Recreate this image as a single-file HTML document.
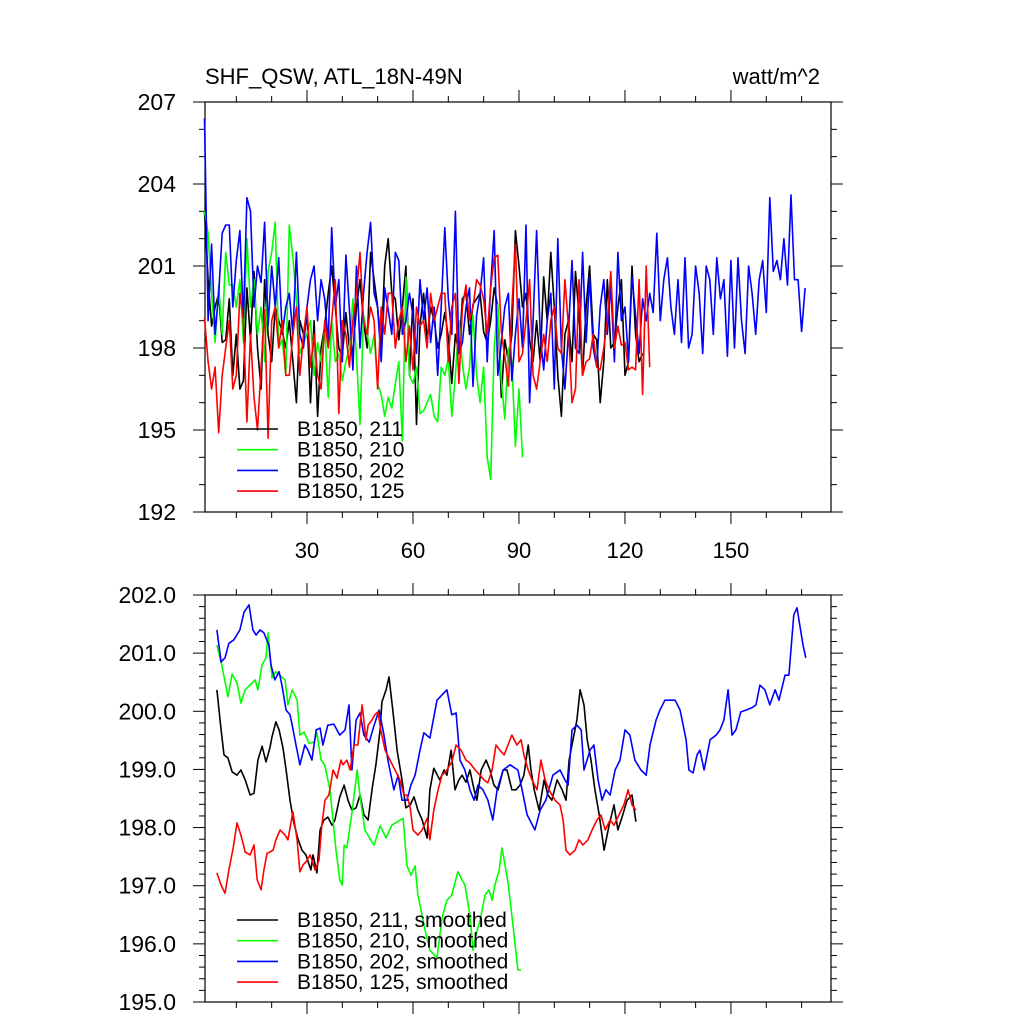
<!DOCTYPE html>
<html><head><meta charset="utf-8"><style>
body{margin:0;background:#fff}
svg text{font-family:"Liberation Sans",sans-serif;fill:#000}
</style></head><body>
<svg id="c" width="1024" height="1024" viewBox="0 0 1024 1024">
<text x="205" y="84" font-size="22">SHF_QSW, ATL_18N-49N</text>
<text x="820" y="84" font-size="22" text-anchor="end">watt/m^2</text>
</svg>
<script>
// ---- raw series (top panel), x = 1..n ----
const blueRaw=[206.4,199,201.8,198.5,200,202.2,202.5,202.5,199.5,201.2,202.3,199,203.5,203,199.5,201,200.4,202.6,198.8,201,199.5,201.3,198.5,199.5,200,198.5,201.5,198.5,198,199.5,
200.5,201,199,200.5,199.8,198.2,202.4,199.5,200.5,197.5,201.4,199.4,197.2,201,198,200,201.5,202.6,200,199.5,197.5,200.2,199.4,198.5,201.5,201.2,198.5,199,200,199.2,
197.8,200.5,199,200.2,198.2,199.5,197,199.5,202.4,199.8,198.5,203,197.8,198.2,199.5,200.2,196.6,199.2,200,201.3,197.5,200.3,202.3,197,198.2,199.5,200,196.8,198.5,199.8,
198,202.5,196,199,202.3,198.5,197.2,199,200,196.5,202,198,196.5,198.5,201.2,198,197.8,201.5,198.2,200.6,198,197.3,199.5,200.5,198.5,200.3,197.5,201.5,199,199.5,
197.5,200.6,199.2,197.8,199.8,199,200,199.3,202.2,199,200.5,201.3,199.5,198.5,200.5,198.2,201.3,198,198.5,201,200,197.8,201,200.5,198.5,201.3,199.8,200.5,197.7,201.2,
198,201.3,199,197.8,201,200,198.5,200.5,201.2,199.3,203.5,200.8,201.2,200.5,202,200.3,203.6,200.5,200.5,198.6,200.2];
const blackRaw=[203,200.5,198.8,199.5,200,198.2,198.3,199.8,197,198.5,196.5,196.8,200.2,198.3,200.8,198,196.5,200.5,198.5,197.5,199.5,199,198.6,198,199,197.5,196,199,198.5,199.2,
196,199,195.5,198,198.8,200,201,199.5,198,197.7,199.3,198,197.8,199.5,200.5,199,198,201.5,200.5,199.5,198,201,202,200,199.8,198.3,199.5,201,197,199.8,
195.2,198.8,200,198.3,199.5,199,198,198.5,199.3,198.4,196.7,198.5,197.8,199.8,200,198.5,199.6,199.8,200,198.6,198.2,199,200.2,199.5,196.2,198.3,197.5,198.5,202.3,201,
199.5,200,198.3,197.5,199,197.5,200.6,199,201.5,199.5,197,195.5,198.5,199,197.5,200.8,199.2,197,199.5,201,198.5,198.3,196,197.5,200.5,198,198.2,199.5,200.5,197,
197.5,201,198.5,197.5,197.8];
const greenRaw=[203,202.2,200,198.2,200.3,198.5,201.5,200.3,200.3,199.5,200.5,198.2,202,199.5,200.5,198.5,199.5,197.5,200.8,201.5,202.6,198,198.3,197,202.5,201.3,199.8,197.8,198.2,198.5,
199,197,198.2,197.5,198.8,196.2,199,197.5,197.8,196.8,197.5,198,199.8,197.7,195.2,199.2,198.5,197.8,198.5,196.7,196.3,195.5,196.2,195.8,196.7,197.5,194.6,200.6,197,196.7,
197.3,195.6,195.7,196,196.3,195.5,195.3,197.3,197,197.6,195.5,197,199,197.4,196.5,197.3,199.2,197,196,197.3,194,193.2,198,199.6,196.8,195.4,198,197.5,194.4,196.5,194];
const redRaw=[199.1,197.5,196.5,197.3,194.9,197,198,199,196.5,197,200,199,195.3,198.5,196.2,195,197.3,199.4,194.7,199,199.5,198,199,197,197,198.5,199.5,197,198.5,199.5,
197.3,198.5,197,196.5,199,198,199,200.5,195.6,199,198.5,197.3,199,200,201.5,199,198.5,199.5,199,196.5,199.5,198.5,200,200,198,199,199.5,197.5,198.8,197.2,
199.5,198.8,199,198,200,199,199.5,200,200,197.5,199.5,200,196.7,199.5,200.3,199,199.5,200.5,200.3,199.8,198.5,200.2,201.3,201.4,198.6,197.7,196.6,199.5,201.8,197.5,
197.8,199,200.5,197,196.5,197.5,198.5,197.5,199,199.5,198,197.8,200.5,198.8,196,196.5,200.5,197,197.5,197.6,198.5,197.3,197.2,198,199,200.8,198,198.8,198.1,198.2,
197.2,197.3,197.2,200.5,196.3,201,197.3];
// ---- smoothed series (bottom panel) ----
const greenSx=[4.5,6,7.6,8.8,10.2,11.3,12.5,15.3,16.1,17.3,18.4,19,20.1,21.2,23.8,24.6,25.8,27.2,28,29.2,30.6,32,32.8,34,35,36.5,38.2,39.3,40,40.5,41.3,42.7,44.2,45,46.4,48.4,49,50.7,52.4,54,57.2,58.3,59.4,60.6,61.4,62,63.4,64.8,66.8,68.2,69.6,71,72.7,74.7,76.1,77,77.8,79,80.4,81.5,82.4,83.2,84.4,85.2,86.9,88.3,89.7,90.6];
const greenSy=[201.14,200.76,200.25,200.64,200.49,200.14,200.37,200.54,200.37,200.8,200.92,201.35,200.57,200.68,200.54,200.11,200.37,200.19,199.59,199.64,199.45,199.47,199.63,199.16,199.08,198.65,197.61,197.1,197.01,197.7,197.65,198.25,198.99,198.54,197.96,197.75,197.7,198.03,197.82,198.04,198.16,197.34,197.18,197.34,196.84,196.67,196.24,195.89,195.76,196.44,196.75,196.84,197.24,197.01,196.5,195.89,196.15,196.41,196.84,196.93,196.75,197.01,197.27,197.65,197.06,196.32,195.55,195.55];
const blueSx=[4.5,5.7,6.8,7.9,9.3,11,12.2,13.6,14.7,15.6,16.7,17.8,19.2,19.8,20.9,22.1,22.9,24.1,25.2,25.8,26.9,28,29.4,30.3,31.4,32.6,33.7,34.5,35.9,37.6,39.3,40.8,41.9,42.7,43.9,45,46.1,47.6,49,50.4,51.8,52.9,54.6,55.8,56.9,58.3,59.4,60.6,62,63.1,64.8,66.8,69.6,71,72.2,73.3,74.7,76.1,77.3,78.4,79.8,81.2,82.6,83.8,85.5,87.5,89.7,90.9,92.3,94.5,96,97.6,99.6,101.6,103,103.9,105,106.4,107.6,108.4,110.1,111.2,112.4,113.5,114.6,115.8,117.2,118.6,120,121.4,122.8,124.5,126,127.1,128.8,129.9,131.3,132.7,134.2,135.6,137.3,138.1,139.3,140.4,141.2,142.4,144.1,145.8,146.9,148,149.2,150.3,151.4,152.8,154.3,155.9,157.1,158.2,159.6,161,162.5,163.6,165.3,166.4,167.8,168.7,169.5,170.4,171.2];
const blueSy=[201.4,200.85,200.92,201.17,201.23,201.4,201.71,201.83,201.4,201.31,201.4,201.35,201.14,200.8,200.54,200.68,200.45,200.02,199.94,199.76,199.42,199.08,199.42,199.33,199.16,199.68,199.71,199.42,199.76,199.78,199.59,199.68,200.11,198.99,199.85,199.97,199.59,199.47,199.76,200.02,199.59,199.16,198.65,198.9,198.47,198.47,198.73,198.9,199.33,199.63,199.54,200.19,200.37,199.94,199.97,199.16,198.99,198.65,198.47,198.73,198.65,198.47,198.13,198.65,198.99,199.08,198.99,198.65,198.22,197.96,198.3,198.47,198.9,198.99,198.82,198.73,199.68,199.76,199.68,198.99,199.33,199.42,198.82,198.47,198.65,198.56,198.99,199.16,199.68,199.59,199.16,198.99,198.9,199.42,199.85,200.02,200.19,200.19,200.19,200.02,199.51,198.99,198.94,199.25,199.33,198.99,199.51,199.59,199.68,199.85,200.37,199.59,199.68,199.99,200.02,200.06,200.11,200.45,200.37,200.11,200.37,200.19,200.62,200.62,201.66,201.78,201.48,201.14,200.92];
const blackSx=[4.5,5.7,6.5,7.6,8.8,10.2,11.3,12.5,13.9,15,16.1,17.3,18.4,19.5,20.1,21.2,22.1,23.2,24.1,25.2,26.3,27.5,28.6,29.7,31.1,31.7,32.8,33.7,34.8,35.9,37.1,37.9,39.3,40.5,41.6,42.7,43.9,45,46.1,47.3,48.4,49.5,50.7,51.2,52.4,53.2,54.3,55.5,56.9,58,59.2,60.3,61.4,62.6,64,64.8,65.9,67.6,68.8,69.6,70.8,71.9,73,73.9,75,76.1,77.3,78.1,79.3,80.7,81.8,82.9,84.1,85.5,86.6,88,89.2,90.3,91.4,92.6,93.4,94.3,95.7,97.1,98.2,99.3,100.8,102.2,103.3,104.2,105.3,106.4,107.3,108.4,109.3,110.4,111.5,112.7,114.1,115.5,116.9,118,119.4,120.6,122,123.1];
const blackSy=[200.37,199.68,199.25,199.2,198.96,198.9,198.99,198.82,198.56,198.59,199.16,199.4,199.13,199.37,199.56,199.82,199.68,199.37,198.99,198.47,198.08,197.79,197.61,197.53,197.27,197.53,197.22,197.96,198.13,198.18,198.04,198.13,198.53,198.73,198.47,198.3,198.34,198.56,198.22,198.13,198.65,199.08,199.68,200.16,200.37,200.59,200.02,199.33,198.82,198.34,198.39,198.53,198.3,198.13,197.82,198.65,199.02,198.82,198.99,198.9,199.33,198.65,198.82,198.9,198.78,198.99,198.65,198.47,198.99,199.16,198.99,198.73,198.65,198.99,198.99,198.65,198.65,198.73,198.9,199.42,198.99,198.65,198.3,198.82,198.56,198.47,198.82,198.65,198.47,199.16,199.51,199.85,200.37,200.11,199.51,199.16,198.65,198.22,197.61,198.04,198.39,197.96,198.22,198.47,198.56,198.1];
const redSx=[4.5,5.7,6.8,7.9,9.1,10.2,11.3,12.5,13.9,15,15.9,17,17.8,18.7,19.5,20.4,21.2,22.4,23.8,24.6,26,27.2,28,28.9,29.7,30.9,32.3,33.4,34.2,35.1,36.2,37.4,38.5,39.6,40.2,41.3,42.2,43.3,44.4,45.6,46.7,47.3,48.4,49.2,50.1,50.9,52.1,53.5,54.9,56.3,57.5,58.3,59.2,60,61.4,62.6,64,64.8,65.9,67.1,68.2,69.6,71,72.2,73.6,75,76.1,77.6,79,80.1,81.2,82.4,83.5,84.6,85.8,86.9,88,89.4,90.6,91.4,92.6,93.7,95.1,96.2,97.4,98.5,100.2,101.6,102.5,103.3,104.4,105.9,107,108.1,109.5,110.7,112.1,113.2,114.4,115.8,116.9,118.3,119.7,120.9,122,123.1];
const redSy=[197.22,197.01,196.87,197.27,197.65,198.08,197.87,197.58,197.53,197.7,197.1,196.93,197.27,197.56,197.58,197.61,197.79,197.96,197.87,197.79,198.27,197.79,197.24,197.36,197.41,197.53,197.27,197.44,198.04,198.47,198.56,198.99,198.85,199.16,199.08,199.16,198.99,199.42,199.42,200.11,199.51,199.76,199.85,199.94,199.99,199.68,199.33,199.16,198.99,198.82,198.56,198.56,198.34,197.96,197.87,197.96,198.16,197.79,198.3,198.65,198.9,198.99,199.13,199.42,199.33,199.16,199.11,198.99,198.9,198.82,198.77,198.99,199.42,199.33,199.25,199.42,199.59,199.42,199.51,199.25,198.99,198.82,198.65,199.16,198.82,198.65,198.47,198.39,198.13,197.61,197.53,197.61,197.79,197.7,197.79,197.96,198.13,198.22,197.96,198.13,198.04,198.22,198.39,198.65,198.39,198.3];
const topTicks=[192,195,198,201,204,207];
const botTicks=["195.0","196.0","197.0","198.0","199.0","200.0","201.0","202.0"];
const xTicks=[30,60,90,120,150];
const legTop=["B1850, 211","B1850, 210","B1850, 202","B1850, 125"];
const legBot=["B1850, 211, smoothed","B1850, 210, smoothed","B1850, 202, smoothed","B1850, 125, smoothed"];
const colors=["#000","#00ff00","#0000ff","#ff0000"];

const svg=document.getElementById('c');const NS='http://www.w3.org/2000/svg';
const L=205,R=831;
const xs=x=>201+3.533*x;
const yT=v=>102+(207-v)*410/15;
const yB=v=>595+(202-v)*407/7;
function el(t,a,p){const e=document.createElementNS(NS,t);for(const k in a)e.setAttribute(k,a[k]);(p||svg).appendChild(e);return e;}
function frame(top,bot,name){
  const g=el('g',{});
  
  
  el('rect',{x:L,y:top,width:R-L,height:bot-top,fill:'none',stroke:'#000','stroke-width':1.2},g);
  return g;
}
function line(pts,color,name){
  const p=el('polyline',{points:pts.map(q=>q[0].toFixed(1)+','+q[1].toFixed(1)).join(' '),fill:'none',stroke:color,'stroke-width':1.6,'stroke-linejoin':'round'});
  
  
}
// top panel
const g1=frame(102,512,'top-panel');
for(let v=10;v<=178;v+=10){const x=xs(v);const big=v%30==0;const len=big?12:6;
  el('line',{x1:x,y1:102,x2:x,y2:102-len,stroke:'#000'},g1);el('line',{x1:x,y1:512,x2:x,y2:512+len,stroke:'#000'},g1);}
for(let v=192;v<=207;v++){const y=yT(v);const big=v%3==0;const len=big?12:6;
  el('line',{x1:L,y1:y,x2:L-len,y2:y,stroke:'#000'},g1);el('line',{x1:R,y1:y,x2:R+len,y2:y,stroke:'#000'},g1);}
topTicks.forEach(v=>{const t=el('text',{x:176,y:yT(v)+8,'font-size':23,'text-anchor':'end'});t.textContent=v;
  
  });
xTicks.forEach(v=>{const t=el('text',{x:xs(v),y:558,'font-size':22,'text-anchor':'middle'});t.textContent=v;
  
  });
[blackRaw,greenRaw,blueRaw,redRaw].forEach((s,i)=>line(s.map((v,j)=>[xs(j+1),yT(v)]),colors[i],'raw-series-'+i));
// bottom panel
const g2=frame(595,1002,'bottom-panel');
for(let v=10;v<=178;v+=10){const x=xs(v);const big=v%30==0;const len=big?12:6;
  el('line',{x1:x,y1:595,x2:x,y2:595-len,stroke:'#000'},g2);el('line',{x1:x,y1:1002,x2:x,y2:1002+len,stroke:'#000'},g2);}
for(let k=0;k<=35;k++){const v=195+k*0.2;const y=yB(v);const big=k%5==0;const len=big?12:6;
  el('line',{x1:L,y1:y,x2:L-len,y2:y,stroke:'#000'},g2);el('line',{x1:R,y1:y,x2:R+len,y2:y,stroke:'#000'},g2);}
botTicks.forEach(v=>{const t=el('text',{x:176,y:yB(parseFloat(v))+8,'font-size':23,'text-anchor':'end'});t.textContent=v;
  
  });
[[blackSx,blackSy],[greenSx,greenSy],[blueSx,blueSy],[redSx,redSy]].forEach((s,i)=>{
  const n=Math.min(s[0].length,s[1].length);const pts=[];for(let j=0;j<n;j++)pts.push([xs(s[0][j]),yB(s[1][j])]);
  line(pts,colors[i],'smoothed-series-'+i);});
// legends
function legend(labels,y0){labels.forEach((s,i)=>{const y=y0+i*20.7;
  const l=el('line',{x1:237,y1:y,x2:278,y2:y,stroke:colors[i],'stroke-width':1.6});
  
  
  const t=el('text',{x:297,y:y+7,'font-size':21});t.textContent=s;
  
  });}
legend(legTop,429);legend(legBot,920);
</script>
</body></html>
